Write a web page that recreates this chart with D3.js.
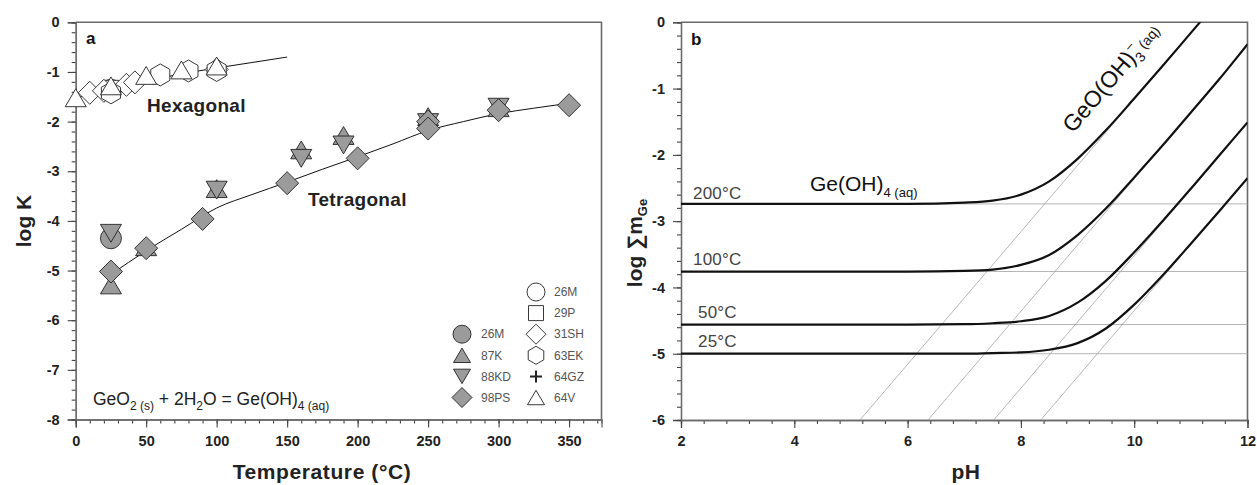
<!DOCTYPE html>
<html><head><meta charset="utf-8">
<script src="https://cdn.jsdelivr.net/npm/d3@7"></script>
<style>
body{margin:0;background:#fff;}
text{font-family:"Liberation Sans",Arial,Helvetica,sans-serif;}
</style></head>
<body>
<script>
// ---------------- Panel a data (T in °C, log K) ----------------
const open26M  = [[25,-1.36]];
const open29P  = [[25,-1.33]];
const open31SH = [[10,-1.42],[20,-1.38],[36,-1.26],[42,-1.21],[100,-0.95]];
const open63EK = [[25,-1.42],[60,-1.06],[80,-0.98],[100,-0.97]];
const open64GZ = [[100,-0.93]];
const open64V  = [[0,-1.52],[25,-1.28],[50,-1.07],[75,-0.96],[100,-0.88]];

const fill26M  = [[25,-4.35]];
const fill87K  = [[25,-5.29],[50,-4.52],[100,-3.35],[160,-2.57],[190,-2.28],[250,-1.90],[300,-1.72]];
const fill88KD = [[25,-4.25],[100,-3.38],[160,-2.74],[190,-2.47],[250,-2.02],[300,-1.71]];
const fill98PS = [[25,-5.02],[50,-4.55],[90,-3.96],[150,-3.24],[200,-2.74],[250,-2.0],[250,-2.14],[300,-1.77],[350,-1.67]];

const hexFitT = [0,25,50,75,100,125,150];
const hexFitK = [-1.53,-1.34,-1.18,-1.04,-0.92,-0.81,-0.70];
const tetFitT = [25,50,75,100,125,150,175,200,225,250,275,300,325,350];
const tetFitK = [-5.08,-4.60,-4.17,-3.74,-3.47,-3.22,-2.96,-2.71,-2.45,-2.18,-2.00,-1.84,-1.73,-1.63];

const legendLeft  = ["26M","87K","88KD","98PS"];
const legendRight = ["26M","29P","31SH","63EK","64GZ","64V"];

const aXTicks = [0,50,100,150,200,250,300,350];
const aYTicks = [-8,-7,-6,-5,-4,-3,-2,-1,0];

// ---------------- Panel b data (pH, log ΣmGe) ----------------
const pHgrid   = [2,6,7,7.5,8,8.5,9,9.5,10,10.5,11,11.5,12];
const curve200 = [-2.74,-2.74,-2.72,-2.69,-2.60,-2.40,-2.06,-1.63,-1.15,-0.66,-0.16,0.34,0.84];
const curve100 = [-3.76,-3.76,-3.75,-3.73,-3.66,-3.51,-3.21,-2.81,-2.34,-1.86,-1.36,-0.86,-0.33];
const curve50  = [-4.56,-4.56,-4.555,-4.54,-4.51,-4.43,-4.23,-3.90,-3.47,-3.00,-2.51,-2.01,-1.51];
const curve25  = [-5.00,-5.00,-5.00,-4.99,-4.98,-4.94,-4.84,-4.62,-4.26,-3.82,-3.34,-2.85,-2.35];
const tempLabels = ["200°C","100°C","50°C","25°C"];
const plateaus   = [-2.74,-3.76,-4.56,-5.00];
// grey slope-1 guide lines: [pH at bottom (-6), pH at top (0)]
const guideStart = [5.16,6.36,7.52,8.35];
const guideEnd   = [11.16,12.36,13.52,14.35];

const bXTicks = [2,4,6,8,10,12];
const bYTicks = [-6,-5,-4,-3,-2,-1,0];

// ---------------- drawing ----------------
const W = 1257, H = 485;
const svg = d3.select("body").append("svg").attr("width",W).attr("height",H);

const frameCol = "#6a6a6a";
const tickCol = "#444";

function shape(type, s){
  const r = s;
  switch(type){
    case "circle": return `M${r},0A${r},${r},0,1,1,${-r},0A${r},${r},0,1,1,${r},0Z`;
    case "up": { const w=r*1.0, h=r*0.85; return `M0,${-h}L${w},${h}L${-w},${h}Z`; }
    case "down": { const w=r*1.0, h=r*0.85; return `M0,${h}L${w},${-h}L${-w},${-h}Z`; }
    case "diamond": return `M0,${-r}L${r},0L0,${r}L${-r},0Z`;
    case "square": return `M${-r},${-r}H${r}V${r}H${-r}Z`;
    case "hex": { let p=""; for(let k=0;k<6;k++){const a=(-90+60*k)*Math.PI/180; p+=(k?"L":"M")+(r*Math.cos(a)).toFixed(2)+","+(r*Math.sin(a)).toFixed(2);} return p+"Z"; }
    case "plus": return `M${-r},0H${r}M0,${-r}V${r}`;
  }
}

// ---- Panel a ----
const xa = d3.scaleLinear().domain([0,373]).range([75.7,601.5]);
const ya = d3.scaleLinear().domain([-8,0]).range([419.5,22.3]);
const ga = svg.append("g");

function styleAxis(g){
  g.select(".domain").attr("stroke",frameCol).attr("stroke-width",1.3);
  g.selectAll(".tick line").attr("stroke",tickCol).attr("stroke-width",1.1);
  g.selectAll(".tick text").attr("fill","#222").attr("font-size",14.5).attr("font-weight","bold")
    .attr("font-family",'"Liberation Sans",Arial,sans-serif');
}

// minor ticks
ga.append("g").attr("transform",`translate(0,${ya(-8)})`)
  .call(d3.axisBottom(xa).tickValues(d3.range(0,371,10)).tickSize(4).tickFormat("")).call(styleAxis);
ga.append("g").attr("transform",`translate(${xa(0)},0)`)
  .call(d3.axisLeft(ya).tickValues(d3.range(-40,1,1).map(d=>d/5)).tickSize(4).tickFormat("")).call(styleAxis);
// major ticks
ga.append("g").attr("transform",`translate(0,${ya(-8)})`)
  .call(d3.axisBottom(xa).tickValues(aXTicks).tickSize(8).tickPadding(8).tickFormat(d=>String(d))).call(styleAxis);
ga.append("g").attr("transform",`translate(${xa(0)},0)`)
  .call(d3.axisLeft(ya).tickValues(aYTicks).tickSize(8).tickPadding(8).tickFormat(d=>String(d))).call(styleAxis);
// frame top/right
ga.append("path").attr("d",`M${xa(0)},${ya(0)}H${xa(373)}V${ya(-8)}`).attr("fill","none").attr("stroke",frameCol).attr("stroke-width",1.6);

// fit lines
const lineA = d3.line().x(d=>xa(d[0])).y(d=>ya(d[1])).curve(d3.curveMonotoneX);
ga.append("path").attr("d",lineA(hexFitT.map((t,i)=>[t,hexFitK[i]]))).attr("fill","none").attr("stroke","#111").attr("stroke-width",1);
ga.append("path").attr("d",lineA(tetFitT.map((t,i)=>[t,tetFitK[i]]))).attr("fill","none").attr("stroke","#111").attr("stroke-width",1);

const greyFill = "#9b9b9b";
const sizes = {circle:10.5, up:10.5, down:10.5, diamond:11.5, square:8, hex:11, plus:6};
function drawSeries(data, type, fill){
  ga.append("g").selectAll("path").data(data).join("path")
    .attr("transform",d=>`translate(${xa(d[0])},${ya(d[1])})`)
    .attr("d",shape(type,sizes[type]))
    .attr("fill",type==="plus"?"none":fill).attr("stroke","#222").attr("stroke-width",type==="plus"?2:0.9);
}
drawSeries(open26M,"circle","#fff");
drawSeries(open29P,"square","#fff");
drawSeries(open31SH,"diamond","#fff");
drawSeries(open63EK,"hex","#fff");
drawSeries(open64GZ,"plus","#fff");
drawSeries(open64V,"up","#fff");
drawSeries(fill26M,"circle",greyFill);
drawSeries(fill87K,"up",greyFill);
drawSeries(fill88KD,"down",greyFill);
drawSeries(fill98PS,"diamond",greyFill);

// labels
ga.append("text").attr("x",86).attr("y",44).attr("font-size",17).attr("font-weight","bold").attr("fill","#111").text("a");
ga.append("text").attr("x",147).attr("y",112).attr("font-size",19).attr("letter-spacing",0.3).attr("font-weight","bold").attr("fill","#222").text("Hexagonal");
ga.append("text").attr("x",308).attr("y",206).attr("font-size",19).attr("letter-spacing",0.3).attr("font-weight","bold").attr("fill","#222").text("Tetragonal");

const eq = ga.append("text").attr("x",93).attr("y",405).attr("font-size",17.5).attr("fill","#222");
eq.append("tspan").text("GeO");
eq.append("tspan").attr("font-size",12).attr("dy",5).text("2 (s)");
eq.append("tspan").attr("dy",-5).text(" + 2H");
eq.append("tspan").attr("font-size",12).attr("dy",5).text("2");
eq.append("tspan").attr("dy",-5).text("O = Ge(OH)");
eq.append("tspan").attr("font-size",12).attr("dy",5).text("4 (aq)");

// legend
const legShapesL = ["circle","up","down","diamond"];
const legShapesR = ["circle","square","diamond","hex","plus","up"];
const legSizes = {circle:9, up:8.5, down:8.5, diamond:10, square:7.5, hex:9, plus:6};
const legY = i => 292 + i*21.1;
legendLeft.forEach((lab,i)=>{
  const y = legY(i+2);
  ga.append("path").attr("transform",`translate(462,${y})`).attr("d",shape(legShapesL[i],legSizes[legShapesL[i]]))
    .attr("fill",greyFill).attr("stroke","#222").attr("stroke-width",0.9);
  ga.append("text").attr("x",481).attr("y",y).attr("dy","0.35em").attr("font-size",12).attr("fill","#555").text(lab);
});
legendRight.forEach((lab,i)=>{
  const y = legY(i);
  const t = legShapesR[i];
  ga.append("path").attr("transform",`translate(536,${y})`).attr("d",shape(t,legSizes[t]))
    .attr("fill",t==="plus"?"none":"#fff").attr("stroke","#222").attr("stroke-width",t==="plus"?2:0.9);
  ga.append("text").attr("x",554).attr("y",y).attr("dy","0.35em").attr("font-size",12).attr("fill","#555").text(lab);
});

// axis titles
ga.append("text").attr("x",322).attr("y",479).attr("text-anchor","middle").attr("font-size",21).attr("letter-spacing",0.6).attr("font-weight","bold").attr("fill","#222").text("Temperature (°C)");
ga.append("text").attr("transform","translate(31,221) rotate(-90)").attr("text-anchor","middle").attr("font-size",21).attr("font-weight","bold").attr("fill","#222").text("log K");

// ---- Panel b ----
const xb = d3.scaleLinear().domain([2,12]).range([681,1247.5]);
const yb = d3.scaleLinear().domain([-6,0]).range([420,22.3]);
const gb = svg.append("g");
svg.append("clipPath").attr("id","clipb").append("rect").attr("x",xb(2)).attr("y",yb(0)).attr("width",xb(12)-xb(2)).attr("height",yb(-6)-yb(0));

gb.append("g").attr("transform",`translate(0,${yb(-6)})`)
  .call(d3.axisBottom(xb).tickValues(d3.range(0,26,1).map(d=>2+d*0.4)).tickSize(4).tickFormat("")).call(styleAxis);
gb.append("g").attr("transform",`translate(${xb(2)},0)`)
  .call(d3.axisLeft(yb).tickValues(d3.range(-30,1,1).map(d=>d/5)).tickSize(4).tickFormat("")).call(styleAxis);
gb.append("g").attr("transform",`translate(0,${yb(-6)})`)
  .call(d3.axisBottom(xb).tickValues(bXTicks).tickSize(8).tickPadding(8).tickFormat(d=>String(d))).call(styleAxis);
gb.append("g").attr("transform",`translate(${xb(2)},0)`)
  .call(d3.axisLeft(yb).tickValues(bYTicks).tickSize(8).tickPadding(8).tickFormat(d=>String(d))).call(styleAxis);
gb.append("path").attr("d",`M${xb(2)},${yb(0)}H${xb(12)}V${yb(-6)}`).attr("fill","none").attr("stroke",frameCol).attr("stroke-width",1.6);

const plot = gb.append("g").attr("clip-path","url(#clipb)");
// grey guides
plateaus.forEach(p=>{
  plot.append("line").attr("x1",xb(2)).attr("x2",xb(12)).attr("y1",yb(p)).attr("y2",yb(p)).attr("stroke","#b5b5b5").attr("stroke-width",1);
});
guideStart.forEach((s,i)=>{
  plot.append("line").attr("x1",xb(s)).attr("y1",yb(-6)).attr("x2",xb(guideEnd[i])).attr("y2",yb(0)).attr("stroke","#a5a5a5").attr("stroke-width",0.8);
});
const lineB = d3.line().x(d=>xb(d[0])).y(d=>yb(d[1])).curve(d3.curveMonotoneX);
[curve200,curve100,curve50,curve25].forEach(c=>{
  plot.append("path").attr("d",lineB(pHgrid.map((p,i)=>[p,c[i]]))).attr("fill","none").attr("stroke","#111").attr("stroke-width",2.2);
});

// temperature labels
const labDy = [4.5,6.5,7,7];
tempLabels.forEach((t,i)=>{
  gb.append("text").attr("x",i<2?693:698).attr("y",yb(plateaus[i])-labDy[i]).attr("font-size",17).attr("letter-spacing",0.2).attr("fill","#444").text(t);
});
gb.append("text").attr("x",691).attr("y",45).attr("font-size",17).attr("font-weight","bold").attr("fill","#111").text("b");

const ge = gb.append("text").attr("x",810).attr("y",191).attr("font-size",21).attr("fill","#111");
ge.append("tspan").text("Ge(OH)");
ge.append("tspan").attr("font-size",13).attr("dy",6).text("4 (aq)");

const ge3 = gb.append("text").attr("transform","translate(1073,134) rotate(-49.5)").attr("font-size",23).attr("fill","#111");
ge3.append("tspan").text("GeO(OH)");
ge3.append("tspan").attr("font-size",14).attr("dy",6).text("3");
ge3.append("tspan").attr("font-size",14).attr("dy",-15).attr("dx",-7).text("−");
ge3.append("tspan").attr("font-size",14).attr("dy",9).attr("dx",3).text("(aq)");

gb.append("text").attr("x",966).attr("y",479).attr("text-anchor","middle").attr("font-size",21).attr("letter-spacing",0.6).attr("font-weight","bold").attr("fill","#222").text("pH");
const yl = gb.append("text").attr("transform","translate(642,243) rotate(-90)").attr("text-anchor","middle").attr("font-size",21).attr("font-weight","bold").attr("fill","#222");
yl.append("tspan").text("log ∑m");
yl.append("tspan").attr("font-size",13).attr("dy",5).text("Ge");
</script>
</body></html>
